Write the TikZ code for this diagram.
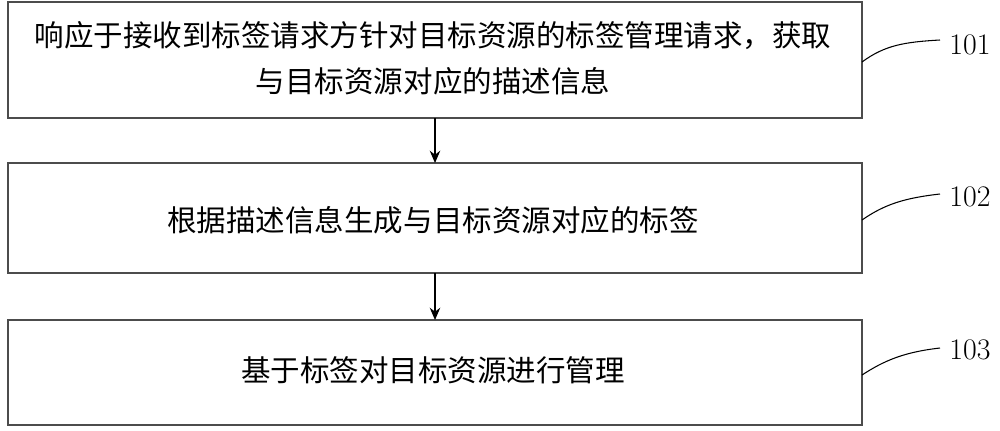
\documentclass[tikz,border=0pt]{standalone}
\usepackage{fontspec}
\newfontfamily\cjk{Noto Sans CJK SC}
\tikzset{stepbox/.style={draw=black!70,line width=0.6pt},
  txt/.style={font=\cjk\fontsize{16.8}{26}\selectfont,align=center},
  num/.style={font=\fontsize{17}{20}\selectfont},
  arr/.style={-{Stealth[length=7pt,width=6pt]},line width=0.7pt}}
\usetikzlibrary{arrows.meta}
\begin{document}
\begin{tikzpicture}[x=0.02cm,y=-0.02cm]
\useasboundingbox (0,0) rectangle (1000,430);
\draw[stepbox] (8,2) rectangle (862,118);
\draw[stepbox] (8,163) rectangle (862,273);
\draw[stepbox] (8,320) rectangle (862,425);
\coordinate (b1) at (435,118); \coordinate (t2) at (435,163);
\coordinate (b2) at (435,273); \coordinate (t3) at (435,320);
\node[txt] (n1) at (433,58) {响应于接收到标签请求方针对目标资源的标签管理请求，获取\\与目标资源对应的描述信息};
\node[txt] (n2) at (433,220) {根据描述信息生成与目标资源对应的标签};
\node[txt] (n3) at (433,370) {基于标签对目标资源进行管理};
\draw[arr] (b1) -- (t2);
\draw[arr] (b2) -- (t3);
\node[num] (l1) at (970,45) {101};
\node[num] (l2) at (970,197) {102};
\node[num] (l3) at (970,350) {103};
\coordinate (e1) at (862,62); \coordinate (e2) at (862,220); \coordinate (e3) at (862,375);
\draw[line width=0.6pt] (e1) .. controls (885,45) and (905,42) .. (940,40);
\draw[line width=0.6pt] (e2) .. controls (885,204) and (905,198) .. (940,194);
\draw[line width=0.6pt] (e3) .. controls (885,360) and (905,352) .. (940,348);
\end{tikzpicture}
\end{document}
